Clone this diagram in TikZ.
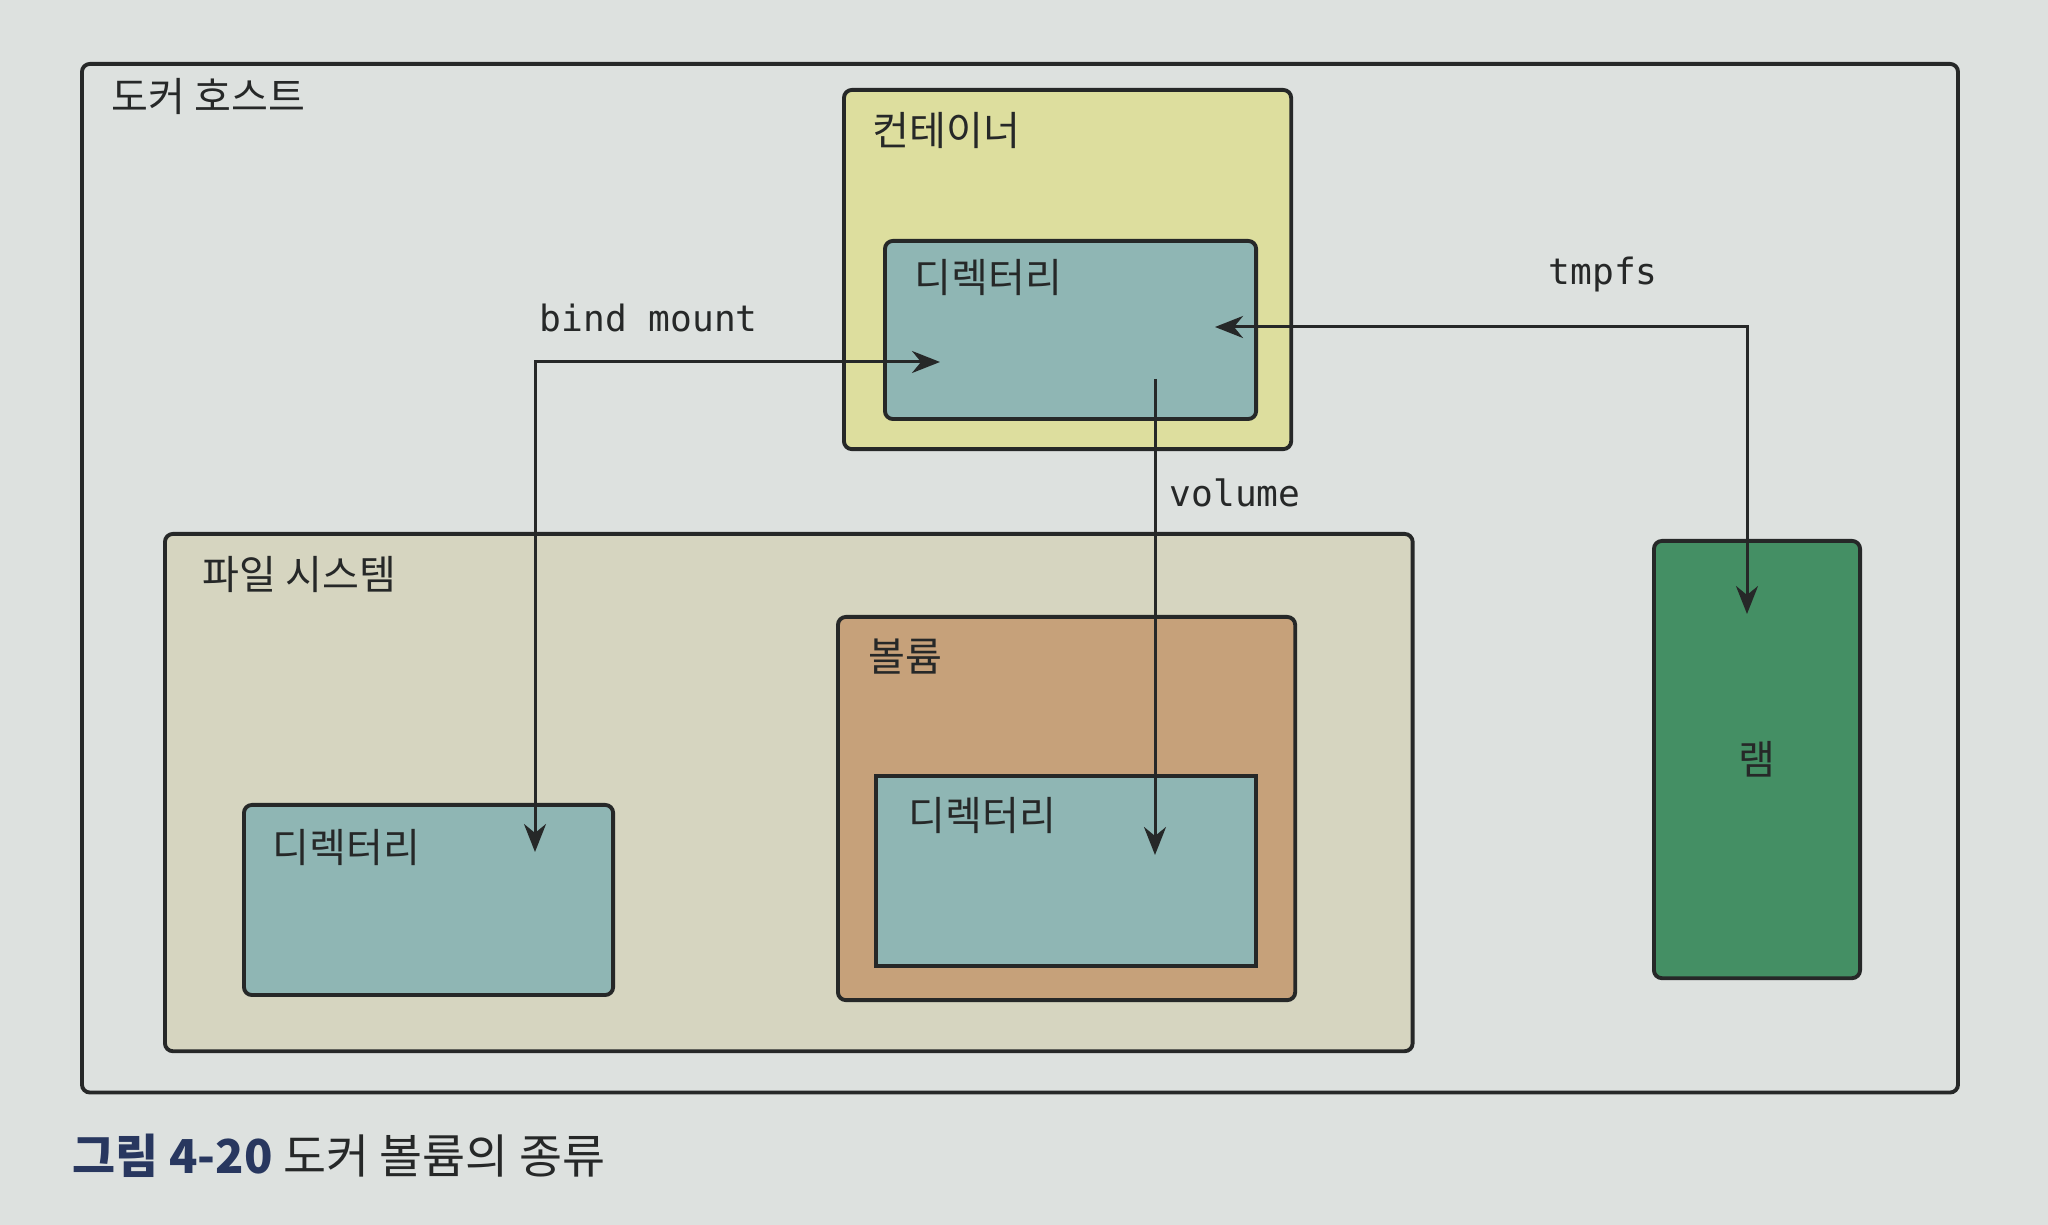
\documentclass[tikz,border=0pt]{standalone}
\usepackage{fontspec}
\usepackage{xcolor}
\usepackage{tikz}
\usetikzlibrary{arrows.meta, positioning, calc}
\setmainfont{Noto Sans CJK KR}
\newfontfamily\krfont{Noto Sans CJK KR}
\newfontfamily\codefont{DejaVu Sans Mono}
\definecolor{paper}{RGB}{221, 225, 223}
\definecolor{inkgray}{RGB}{38, 40, 40}
\definecolor{containeryellow}{RGB}{221, 222, 158}
\definecolor{dirteal}{RGB}{143, 182, 180}
\definecolor{fsbeige}{RGB}{214, 213, 192}
\definecolor{volumetan}{RGB}{198, 161, 122}
\definecolor{ramgreen}{RGB}{68, 143, 100}
\definecolor{captionnavy}{RGB}{40, 55, 95}

\begin{document}
\begin{tikzpicture}[
    x=0.01cm, y=-0.01cm,
    box/.style={draw=inkgray, line width=1.1pt, rounded corners=0.08cm,
                inner sep=0pt, anchor=north west},
    title/.style={inner sep=0pt, anchor=north west, text=inkgray,
                  font=\krfont\fontsize{11.4}{13}\selectfont},
    code/.style={inner sep=0pt, anchor=west, text=inkgray,
                 font=\codefont\fontsize{10.3}{12}\selectfont},
    conn/.style={draw=inkgray, line width=0.85pt,
                 {Stealth[length=0.28cm, width=0.22cm, inset=0.09cm]}-{Stealth[length=0.28cm, width=0.22cm, inset=0.09cm]}},
    oneway/.style={draw=inkgray, line width=0.85pt,
                   -{Stealth[length=0.28cm, width=0.22cm, inset=0.09cm]}}
]
    \fill[paper] (0,0) rectangle (2048,1225);
    \useasboundingbox (0,0) rectangle (2048,1225);

    \node[box, minimum width=18.75cm, minimum height=10.28cm] (host) at (80,62) {};
    \node[title, below right=0.16cm and 0.31cm of host.north west] {도커 호스트};

    \node[box, fill=containeryellow, minimum width=4.47cm, minimum height=3.59cm] (container) at (842,88) {};
    \node[title, below right=0.24cm and 0.30cm of container.north west] {컨테이너};
    \node[box, fill=dirteal, minimum width=3.71cm, minimum height=1.78cm] (cdir) at (883,239) {};
    \node[title, below right=0.20cm and 0.31cm of cdir.north west] {디렉터리};

    \node[box, fill=fsbeige, minimum width=12.47cm, minimum height=5.17cm] (filesys) at (163,532) {};
    \node[title, below right=0.24cm and 0.39cm of filesys.north west] {파일 시스템};
    \node[box, fill=dirteal, minimum width=3.69cm, minimum height=1.90cm] (fsdir) at (242,803) {};
    \node[title, below right=0.26cm and 0.30cm of fsdir.north west] {디렉터리};

    \node[box, fill=volumetan, minimum width=4.57cm, minimum height=3.83cm] (volume) at (836,615) {};
    \node[title, below right=0.23cm and 0.32cm of volume.north west] {볼륨};
    \node[box, fill=dirteal, sharp corners, minimum width=3.80cm, minimum height=1.90cm] (vdir) at (874,774) {};
    \node[title, below right=0.23cm and 0.34cm of vdir.north west] {디렉터리};

    \node[box, fill=ramgreen, minimum width=2.06cm, minimum height=4.37cm] (ram) at (1652,539) {};
    \node[title, anchor=center] at (ram.center) {램};

    \coordinate (bindin) at ($(cdir.north west)+(57,123)$);
    \coordinate (bindout) at ($(fsdir.north west)+(293,49)$);
    \coordinate (volin) at ($(cdir.north west)+(272,140)$);
    \coordinate (volout) at ($(vdir.north west)+(281,81)$);
    \coordinate (tmpin) at ($(cdir.north west)+(332,88)$);
    \coordinate (tmpout) at ($(ram.north west)+(95,75)$);

    \draw[conn] (bindin) -| (bindout);
    \draw[oneway] (volin) -- (volout);
    \draw[conn] (tmpin) -| (tmpout);

    \node[code] (bindlabel) at (539,318) {bind mount};
    \node[code] (vollabel) at (1169,493) {volume};
    \node[code] (tmplabel) at (1548,275) {tmpfs};

    \node[inner sep=0pt, anchor=west, text=inkgray, font=\krfont\fontsize{13.3}{15}\selectfont] (caption) at (72,1156)
        {\textcolor{captionnavy}{\bfseries 그림 4-20} 도커 볼륨의 종류};
\end{tikzpicture}
\end{document}
